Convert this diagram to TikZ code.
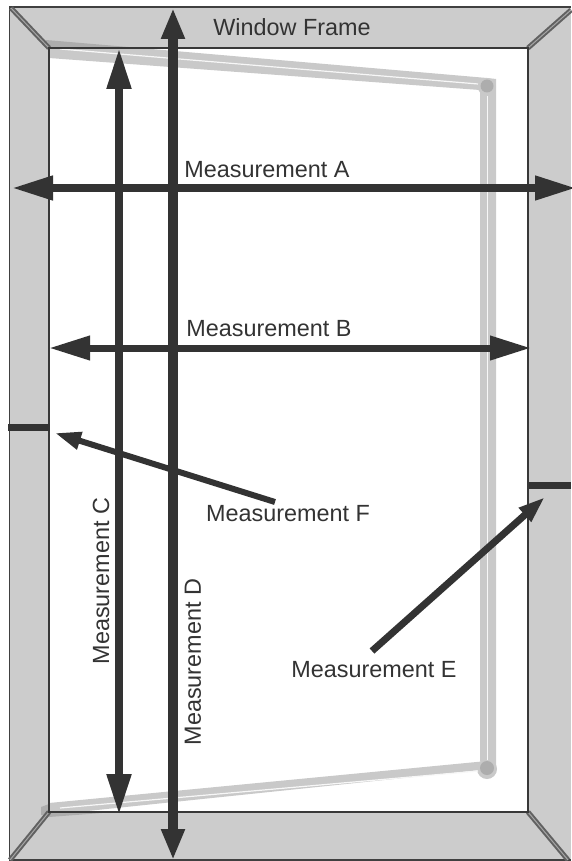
\documentclass[tikz,border=0pt]{standalone}
\usepackage{fontspec}
\setmainfont{Liberation Sans}
\usetikzlibrary{arrows.meta}
\definecolor{framegray}{HTML}{CCCCCC}
\definecolor{sash}{HTML}{C9C9C9}
\definecolor{sashdark}{HTML}{ADADAD}
\definecolor{ink}{HTML}{333333}
\tikzset{
  x=1pt,y=-1pt,
  lbl/.style={font=\fontsize{23.4}{26}\selectfont,text=ink,inner sep=0pt},
  meas/.style={draw=ink,line width=#1},
  meas/.default=7.5pt,
  twohead/.style={{Triangle[length=41pt,width=23pt]}-{Triangle[length=41pt,width=23pt]}},
  miter/.style={draw=black!62,line width=5pt},
  miterin/.style={draw=black!35,line width=1pt},
}
\begin{document}
\begin{tikzpicture}
\useasboundingbox (0,0) rectangle (571,861);
\fill[white] (0,0) rectangle (571,861);
% frame
\fill[framegray] (9.5,7) rectangle (571,860);
\draw[black!75,line width=1.2pt] (571,7) -- (9.5,7) -- (9.5,860) -- (571,860);
\fill[white] (49,48) rectangle (528,812);
% sash
\fill[sash] (49,48) -- (49,58) -- (480,90) -- (480,770) -- (49,815) -- (49,803) -- (487,761) -- (496,769) -- (496,79) -- (487,78) -- (140,48) -- cycle;
\fill[sashdark] (46,40) -- (140,48) -- (46,48) -- cycle;
\fill[sashdark] (41,807) -- (49,804) -- (49,815) -- (41,815) -- cycle;
\fill[sashdark] (49,812) -- (115,812) -- (49,817) -- cycle;
\fill[sash] (487,87) circle (9);
\fill[sash] (487,769) circle (10);
\fill[sashdark] (487,86) circle (6.5);
\fill[sashdark] (487,768) circle (7);
\draw[white!85!sash,line width=1.2pt] (60,49) -- (478,84);
\draw[white!85!sash,line width=1.2pt] (60,808) -- (478,771);
\draw[white!85!sash,line width=1.2pt] (487.5,96) -- (487.5,760);
% miters
\draw[miter] (11,8) -- (49,48);
\draw[miter] (571,10) -- (528,48);
\draw[miter] (10,860) -- (49,812);
\draw[miter] (568,860) -- (528,812);
\draw[miterin] (11,8) -- (49,48);
\draw[miterin] (571,10) -- (528,48);
\draw[miterin] (10,860) -- (49,812);
\draw[miterin] (568,860) -- (528,812);
\draw[black!78,line width=1.3pt] (49,48) rectangle (528,812);
% coordinates
\coordinate (aL) at (12,188); \coordinate (aR) at (576,188);
\coordinate (bL) at (49,348); \coordinate (bR) at (531,348);
\coordinate (cT) at (119,48); \coordinate (cB) at (119,815);
\coordinate (dT) at (173,8); \coordinate (dB) at (173,860);
\coordinate (fS) at (275,502); \coordinate (fT) at (55,433);
\coordinate (eS) at (372,651); \coordinate (eT) at (545,497);
\coordinate (tL1) at (8,427); \coordinate (tL2) at (50,427);
\coordinate (tR1) at (529,485); \coordinate (tR2) at (571,485);
% measurements
\draw[meas,twohead] (aL) -- (aR);
\draw[meas=7pt,twohead] (bL) -- (bR);
\draw[meas=8pt,twohead] (cT) -- (cB);
\draw[meas=9.5pt,{Triangle[length=31pt,width=22pt]}-{Triangle[length=31pt,width=22pt]}] (dT) -- (dB);
\draw[meas=6pt,-{Triangle[length=26pt,width=17pt]}] (fS) -- (fT);
\draw[meas=7pt,-{Triangle[length=27pt,width=17pt]}] (eS) -- (eT);
\draw[meas=7pt] (tL1) -- (tL2);
\draw[meas=7pt] (tR1) -- (tR2);
% labels
\node[lbl] (lw) at (292,27) {Window Frame};
\node[lbl] (la) at (267,170) {Measurement A};
\node[lbl] (lb) at (269,329) {Measurement B};
\node[lbl,rotate=90] (lc) at (101,581) {Measurement C};
\node[lbl,rotate=90] (ld) at (193,662) {Measurement D};
\node[lbl] (le) at (374,670) {Measurement E};
\node[lbl] (lf) at (288,514) {Measurement F};
\end{tikzpicture}
\end{document}
